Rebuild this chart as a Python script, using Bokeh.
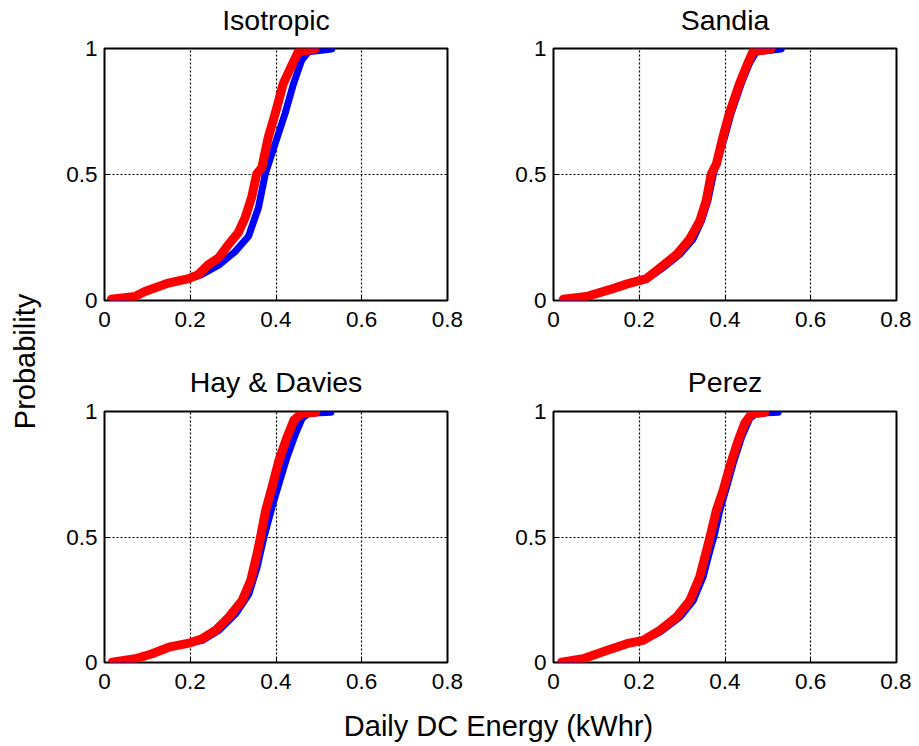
import math
from bokeh.plotting import figure
from bokeh.models import Range1d, FixedTicker
from bokeh.layouts import row, column
from bokeh.core.properties import value
from bokeh.embed import file_html
from bokeh.resources import INLINE

FONT = "Liberation Sans"

titles = ["Isotropic", "Sandia", "Hay & Davies", "Perez"]
x_ticks = [0, 0.2, 0.4, 0.6, 0.8]
x_tick_labels = ["0", "0.2", "0.4", "0.6", "0.8"]
y_ticks = [0, 0.5, 1]
y_tick_labels = ["0", "0.5", "1"]
x_label = "Daily DC Energy (kWhr)"
y_label = "Probability"

# Isotropic
iso_blue_x = [0.016, 0.071, 0.094, 0.149, 0.196, 0.227, 0.266, 0.304, 0.336, 0.359, 0.375, 0.398, 0.421, 0.441, 0.460, 0.476, 0.530]
iso_blue_y = [0.005, 0.016, 0.036, 0.069, 0.087, 0.103, 0.140, 0.193, 0.255, 0.368, 0.502, 0.622, 0.741, 0.861, 0.954, 0.987, 0.998]
iso_red_x = [0.016, 0.071, 0.094, 0.149, 0.196, 0.219, 0.242, 0.266, 0.289, 0.312, 0.328, 0.343, 0.355, 0.367, 0.382, 0.398, 0.417, 0.437, 0.452, 0.491]
iso_red_y = [0.005, 0.016, 0.036, 0.069, 0.087, 0.103, 0.142, 0.169, 0.222, 0.269, 0.329, 0.408, 0.502, 0.528, 0.648, 0.741, 0.861, 0.934, 0.987, 0.998]

# Sandia
san_blue_x = [0.023, 0.077, 0.131, 0.170, 0.217, 0.255, 0.294, 0.325, 0.345, 0.360, 0.373, 0.399, 0.414, 0.438, 0.457, 0.473, 0.531]
san_blue_y = [0.005, 0.016, 0.043, 0.065, 0.084, 0.129, 0.182, 0.242, 0.315, 0.395, 0.502, 0.648, 0.741, 0.861, 0.941, 0.987, 0.998]
san_red_x = [0.023, 0.077, 0.131, 0.170, 0.217, 0.248, 0.287, 0.317, 0.341, 0.356, 0.368, 0.380, 0.395, 0.410, 0.434, 0.453, 0.465, 0.507]
san_red_y = [0.005, 0.016, 0.043, 0.065, 0.087, 0.129, 0.182, 0.242, 0.315, 0.395, 0.502, 0.542, 0.648, 0.741, 0.861, 0.941, 0.987, 0.998]

# Hay & Davies
hd_blue_x = [0.018, 0.072, 0.111, 0.150, 0.197, 0.228, 0.267, 0.306, 0.337, 0.356, 0.372, 0.391, 0.407, 0.426, 0.446, 0.461, 0.477, 0.528]
hd_blue_y = [0.001, 0.015, 0.035, 0.061, 0.077, 0.088, 0.128, 0.194, 0.274, 0.380, 0.500, 0.620, 0.713, 0.820, 0.913, 0.973, 0.993, 0.997]
hd_red_x = [0.018, 0.072, 0.111, 0.150, 0.197, 0.228, 0.259, 0.290, 0.321, 0.341, 0.356, 0.364, 0.376, 0.391, 0.407, 0.426, 0.442, 0.461, 0.493]
hd_red_y = [0.001, 0.015, 0.035, 0.061, 0.077, 0.095, 0.128, 0.181, 0.247, 0.327, 0.434, 0.500, 0.607, 0.700, 0.806, 0.899, 0.966, 0.993, 0.997]

# Perez
pz_blue_x = [0.019, 0.069, 0.124, 0.171, 0.209, 0.248, 0.295, 0.326, 0.349, 0.365, 0.374, 0.388, 0.404, 0.419, 0.439, 0.458, 0.474, 0.524]
pz_blue_y = [0.001, 0.015, 0.048, 0.075, 0.088, 0.121, 0.181, 0.247, 0.341, 0.447, 0.500, 0.607, 0.700, 0.793, 0.899, 0.973, 0.993, 0.997]
pz_red_x = [0.019, 0.069, 0.124, 0.171, 0.209, 0.248, 0.287, 0.318, 0.341, 0.357, 0.365, 0.380, 0.396, 0.411, 0.431, 0.446, 0.462, 0.493]
pz_red_y = [0.001, 0.015, 0.048, 0.075, 0.088, 0.128, 0.181, 0.247, 0.341, 0.447, 0.500, 0.607, 0.687, 0.780, 0.886, 0.953, 0.990, 0.997]

series = [
    (iso_blue_x, iso_blue_y, iso_red_x, iso_red_y),
    (san_blue_x, san_blue_y, san_red_x, san_red_y),
    (hd_blue_x, hd_blue_y, hd_red_x, hd_red_y),
    (pz_blue_x, pz_blue_y, pz_red_x, pz_red_y),
]

STRIP_H = 36


def borders(i):
    left_col = i % 2 == 0
    return (46, 57) if left_col else (49, 15)


def make_strip(i, title):
    left_col = i % 2 == 0
    top_row = i < 2
    w = 446 if left_col else 407
    bl, br = borders(i)
    s = figure(width=w, height=STRIP_H, output_backend="svg", toolbar_location=None,
               x_range=Range1d(0, 0.8), y_range=Range1d(0, STRIP_H))
    s.min_border_left = bl
    s.min_border_right = br
    s.min_border_top = 0
    s.min_border_bottom = 0
    s.axis.visible = False
    s.grid.visible = False
    s.outline_line_color = None
    s.text(x=[0.4], y=[17 if top_row else 17.2], text=[title], text_align="center",
           text_baseline="middle", text_font=value(FONT), text_font_size="28.5px",
           text_color="black")
    return s


def make_panel(i, bx, by, rx, ry):
    left_col = i % 2 == 0
    top_row = i < 2
    w = 446 if left_col else 407
    h = (363 if top_row else 342) - STRIP_H
    bl, br = borders(i)
    p = figure(width=w, height=h, output_backend="svg", toolbar_location=None,
               x_range=Range1d(0, 0.8), y_range=Range1d(0, 1))
    p.min_border_left = bl
    p.min_border_right = br
    p.min_border_top = 12
    p.min_border_bottom = 63 if top_row else 43
    p.background_fill_color = "white"
    p.border_fill_color = "white"
    p.outline_line_color = "black"
    p.outline_line_width = 2

    p.line(bx, by, line_color="#0000ff", line_width=7, line_join="round", line_cap="round")
    p.line(rx, ry, line_color="#ff0000", line_width=9, line_join="round", line_cap="round")

    p.xaxis.ticker = FixedTicker(ticks=x_ticks)
    p.yaxis.ticker = FixedTicker(ticks=y_ticks)
    p.xaxis.major_label_overrides = {t: l for t, l in zip(x_ticks, x_tick_labels)}
    p.yaxis.major_label_overrides = {t: l for t, l in zip(y_ticks, y_tick_labels)}
    for ax in (p.xaxis, p.yaxis):
        ax.axis_line_color = None
        ax.major_tick_in = 5
        ax.major_tick_out = 0
        ax.major_tick_line_color = "black"
        ax.minor_tick_line_color = None
        ax.major_label_text_font = FONT
        ax.major_label_text_font_size = "22.5px"
        ax.major_label_text_color = "black"
    p.xaxis.major_label_standoff = 11
    p.yaxis.major_label_standoff = 7

    for g in (p.xgrid, p.ygrid):
        g.grid_line_color = "black"
        g.grid_line_dash = "2 2"
        g.grid_line_width = 1.2
        g.grid_line_alpha = 1.0
    return p


strips = [make_strip(i, titles[i]) for i in range(4)]
panels = [make_panel(i, *series[i]) for i in range(4)]

ylab = figure(width=58, height=705, output_backend="svg", toolbar_location=None,
              x_range=Range1d(0, 58), y_range=Range1d(0, 705), min_border=0)
ylab.axis.visible = False
ylab.grid.visible = False
ylab.outline_line_color = None
ylab.text(x=[24], y=[344], text=[y_label], angle=math.pi / 2, text_align="center",
          text_baseline="middle", text_font=value(FONT), text_font_size="29px",
          text_color="black")

xlab = figure(width=911, height=41, output_backend="svg", toolbar_location=None,
              x_range=Range1d(0, 911), y_range=Range1d(0, 41), min_border=0)
xlab.axis.visible = False
xlab.grid.visible = False
xlab.outline_line_color = None
xlab.text(x=[498], y=[21], text=[x_label], text_align="center",
          text_baseline="middle", text_font=value(FONT), text_font_size="29px",
          text_color="black")

grid = column(row(strips[0], strips[1]), row(panels[0], panels[1]),
              row(strips[2], strips[3]), row(panels[2], panels[3]))
layout = column(row(ylab, grid), xlab)

open("out.html", "w").write(file_html(layout, INLINE))
